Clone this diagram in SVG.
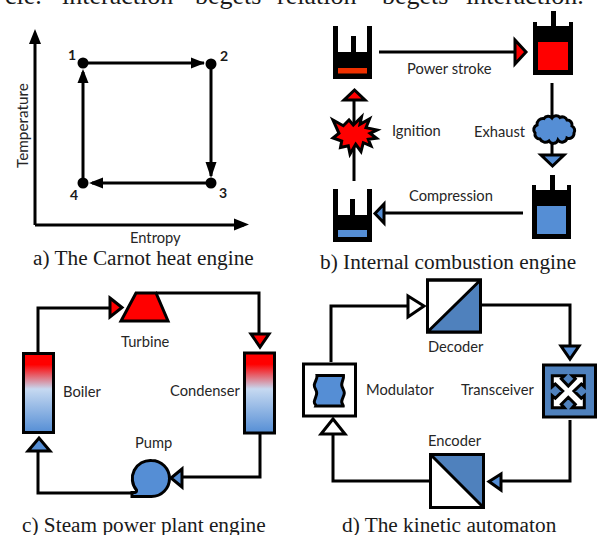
<svg xmlns="http://www.w3.org/2000/svg" width="597" height="535" viewBox="0 0 597 535">
<style>
.l{font-family:"Lato","Open Sans",sans-serif;font-size:14.700px;fill:#262626}
.n{font-family:"Lato","Open Sans",sans-serif;font-size:14px;font-weight:700;fill:#1a1a1a}
.c{font-family:"Liberation Serif",serif;font-size:21.300px;fill:#1a1a1a}
.w{fill:none;stroke:#000;stroke-width:3}
.k{fill:#000}
.ah{stroke:#000;stroke-width:3;stroke-linejoin:miter}
.box{stroke:#000;stroke-width:3}
.r{fill:#f00}.b{fill:#558ed5}.d{fill:#4f81bd}.f{fill:#fff}
</style>
<defs>
<linearGradient id="g" x1="0" y1="0" x2="0" y2="1">
<stop offset="0.14" stop-color="#f00"/>
<stop offset="0.45" stop-color="#c6d9f1"/>
<stop offset="1" stop-color="#558ed5"/>
</linearGradient>
</defs>
<text class="c" style="font-size:26px" y="4"><tspan x="5">cle.</tspan><tspan x="62">interaction</tspan><tspan x="195">begets</tspan><tspan x="277">relation</tspan><tspan x="382">begets</tspan><tspan x="466">interaction.</tspan></text>

<g id="connectors">
<path class="w" d="M35 225V35M35 225H244"/>
<path class="k" d="M35 29L41 44H29Z"/><path class="k" d="M249 224.500L234 218.500V230.500Z"/>
<path class="w" d="M83 63H204"/><path class="k" d="M205 63L191 57.500V68.500Z"/>
<path class="w" d="M211 64V176"/><path class="k" d="M211 178L205.500 162H216.500Z"/>
<path class="w" d="M211 183H92"/><path class="k" d="M89 183L103 177.500V188.500Z"/>
<path class="w" d="M83 183V72"/><path class="k" d="M83 69L77.500 83H88.500Z"/>

<path class="w" d="M379 52H515"/>
<path class="ah r" d="M515 40L526 52L515 64Z"/>
<path class="w" d="M552 83V155"/>
<path class="ah b" d="M541 155H564L552.500 166Z"/>
<path class="w" d="M523 213H385"/>
<path class="ah b" d="M384 204L375 213.500L384 223Z"/>
<path class="w" d="M354 181V100"/>
<path class="ah r" d="M344 100H365L354.500 90Z"/>

<path class="w" d="M38 352V308H109"/>
<path class="ah r" d="M110 298L122 307.500L110 317Z"/>
<path class="w" d="M156 293H259V333"/>
<path class="ah r" d="M251 334H269L260 347Z"/>
<path class="w" d="M260 433V477H183"/>
<path class="ah b" d="M182 469L171 478L182 487Z"/>
<path class="w" d="M135 493H38V452"/>
<path class="ah b" d="M28 451H50L39 438Z"/>

<path class="w" d="M331 362V306H408"/>
<path class="ah f" d="M408 296L424 306L408 317Z"/>
<path class="w" d="M482 305H570V346"/>
<path class="ah b" d="M561 346H579L570 359Z"/>
<path class="w" d="M570 420V481H502"/>
<path class="ah b" d="M501 474L489 481.500L501 490Z"/>
<path class="w" d="M430 481H333V435"/>
<path class="ah f" d="M321 434H345L333 419Z"/>
</g>

<g id="node-1"><circle class="k" cx="83" cy="63" r="5.500"/><text class="n" x="68" y="60">1</text></g>
<g id="node-2"><circle class="k" cx="211" cy="64" r="5.500"/><text class="n" x="220" y="61">2</text></g>
<g id="node-3"><circle class="k" cx="211" cy="183" r="5.500"/><text class="n" x="219" y="198">3</text></g>
<g id="node-4"><circle class="k" cx="83" cy="183" r="5.500"/><text class="n" x="70" y="200">4</text></g>
<text class="l" x="130" y="243">Entropy</text>
<text class="l" transform="translate(28 168) rotate(-90)" style="font-size:15.300px">Temperature</text>
<text class="c" x="33" y="265">a) The Carnot heat engine</text>

<g id="piston-power"><path class="k" d="M333 26H338V52H351V36H356V52H367V26H372V79H333Z"/><rect x="338" y="68" width="29" height="5.500" fill="#f03000"/></g>
<g id="piston-top"><path class="k" d="M533 22H537V26H551V11H556V26H569V22H573V75H533Z"/><rect class="r" x="538" y="42" width="30" height="28"/></g>
<g id="piston-bottom-right"><path class="k" d="M532 185H536V190H550V175H555V190H567V185H571V239H532Z"/><rect class="b" x="537" y="206" width="29" height="28"/></g>
<g id="piston-bottom-left"><path class="k" d="M333 189H338V215H350V199H355V215H367V189H372V242H333Z"/><rect class="b" x="338" y="230" width="29" height="7"/></g>
<g id="ignition"><path class="box r" stroke-linejoin="miter" d="M333 120L343.300 125.700L349 120L353.300 125L361.500 117L360 124.300L369.500 119L366 127.700L377 130L370 133.300L376.500 138.300L368.300 139.300L371 146L363.300 142.700L361 151.500L355.700 144.300L350 154L348.300 145.700L340.500 147.500L341.700 141L333 138L339 133.300Z"/></g>
<g id="cloud"><path class="box b" d="M537 125A6 6 0 0 1 544 118.500A5 5 0 0 1 552 118A5 5 0 0 1 560 117.500A5 5 0 0 1 567 120A5 5 0 0 1 572 126A5 5 0 0 1 574 133A5 5 0 0 1 567 138A5 5 0 0 1 558 140A5 5 0 0 1 549 141A6 6 0 0 1 540 139A5 5 0 0 1 535 133A5 5 0 0 1 537 125Z"/></g>
<text class="l" x="407" y="74">Power stroke</text>
<text class="l" x="392" y="136">Ignition</text>
<text class="l" x="474" y="137">Exhaust</text>
<text class="l" x="409" y="201">Compression</text>
<text class="c" x="320" y="269">b) Internal combustion engine</text>

<g id="turbine"><path class="box r" d="M136 293H156L168 321H121Z"/></g>
<g id="boiler"><rect class="box" x="23.500" y="353.500" width="30" height="79" fill="url(#g)"/></g>
<g id="condenser"><rect class="box" x="244.500" y="353" width="30" height="80" fill="url(#g)"/></g>
<g id="pump"><path class="box b" d="M151.500 460.500A18 18 0 0 1 151.500 496.500H132V492.500C134 492.500 137 493 136.500 490A18 18 0 0 1 151.500 460.500Z"/></g>
<text class="l" x="121" y="347">Turbine</text>
<text class="l" x="63" y="397">Boiler</text>
<text class="l" x="170" y="396">Condenser</text>
<text class="l" x="135" y="448">Pump</text>
<text class="c" x="22" y="532">c) Steam power plant engine</text>

<g id="decoder"><rect class="box f" x="427.500" y="280" width="53" height="52"/><path class="d" d="M480.500 280V332H427.500Z"/><path class="w" d="M427.500 332L480.500 280M427.500 280H480.500V332H427.500Z"/></g>
<g id="encoder"><rect class="box f" x="430.500" y="454.500" width="53" height="53"/><path class="d" d="M430.500 454.500H483.500V507.500Z"/><path class="w" d="M430.500 454.500L483.500 507.500M430.500 454.500H483.500V507.500H430.500Z"/></g>
<g id="modulator"><rect class="box f" x="303.500" y="364" width="52" height="52"/><path class="box b" stroke-width="2.500" d="M317 375.500H343.500C344 379 341.500 382 341.700 385C342 388 344.300 390 344.300 393C344.300 396 341.500 399 341.700 402C342 404 343.500 405 343.300 406H316C316.500 405 314 404 314.300 402C314.500 399 316.700 396 316.700 393C316.700 390 314 388 314.300 385C314.500 382 317.500 379 317 375.500Z"/></g>
<g id="transceiver"><rect class="box d" x="543.500" y="365" width="52" height="52"/><path class="box f" stroke-width="2.500" d="M552.300 375.700H564.300L561.300 378.700L568.300 386L575.300 378.700L572.300 375.700H584.300V386.700L581.300 384L574 391L581.300 398.300L584.300 395.700V407.700H572.300L575.300 404.300L568.300 397.300L561.300 404.300L564.300 407.700H552.300V395.700L555.300 398.300L562.700 391L555.300 384L552.300 386.700Z"/></g>
<text class="l" x="428" y="352">Decoder</text>
<text class="l" x="366" y="395">Modulator</text>
<text class="l" x="461" y="395">Transceiver</text>
<text class="l" x="428" y="446">Encoder</text>
<text class="c" x="342" y="532">d) The kinetic automaton</text>
</svg>
